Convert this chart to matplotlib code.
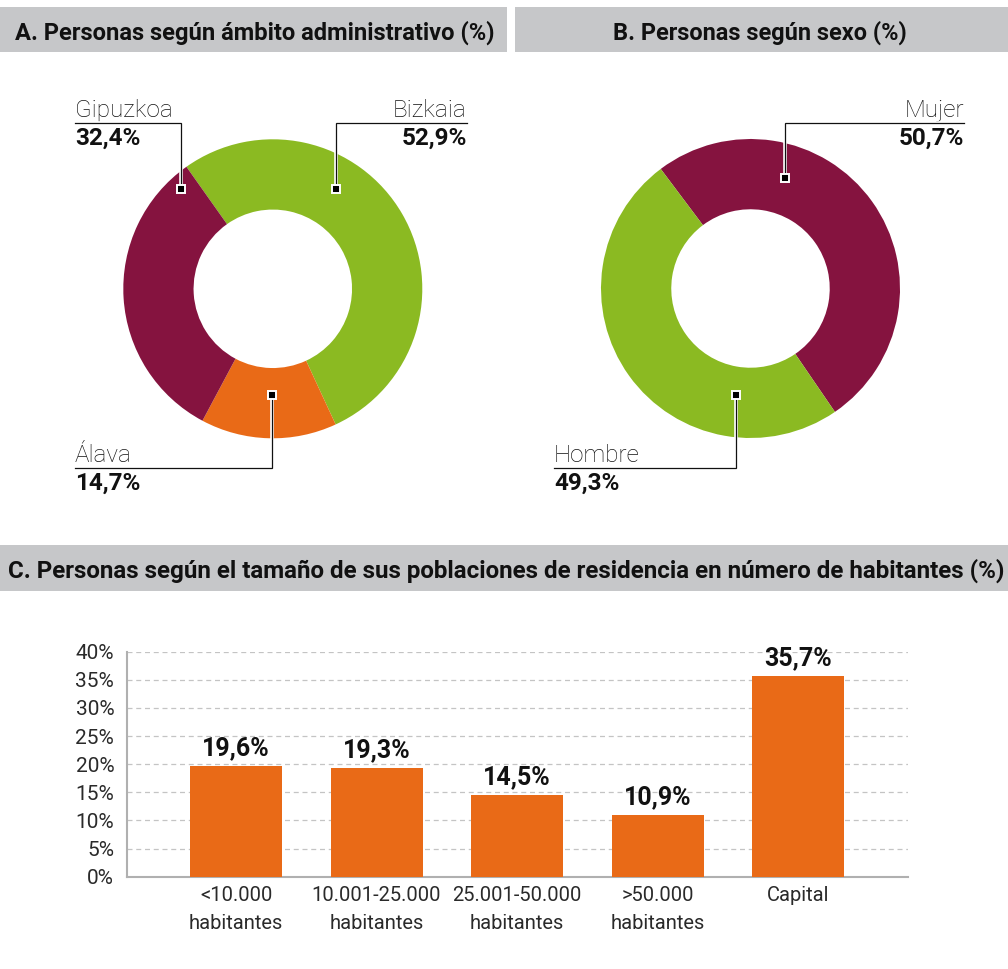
import matplotlib
matplotlib.use('Agg')
import matplotlib.pyplot as plt
import matplotlib.patheffects as pe
from matplotlib.patches import Rectangle

plt.rcParams['font.family'] = ['Roboto', 'DejaVu Sans']

# ---------------- data ----------------
prov_labels = ['Bizkaia', 'Álava', 'Gipuzkoa']
prov_values = [52.9, 14.7, 32.4]
prov_colors = ['#8bba22', '#e96a17', '#85133f']

sex_labels = ['Mujer', 'Hombre']
sex_values = [50.7, 49.3]
sex_colors = ['#85133f', '#8bba22']

size_categories = ['<10.000\nhabitantes', '10.001-25.000\nhabitantes',
                   '25.001-50.000\nhabitantes', '>50.000\nhabitantes', 'Capital']
size_values = [19.6, 19.3, 14.5, 10.9, 35.7]
y_ticks = [0, 5, 10, 15, 20, 25, 30, 35, 40]
y_tick_labels = ['0%', '5%', '10%', '15%', '20%', '25%', '30%', '35%', '40%']

title_a = 'A. Personas según ámbito administrativo (%)'
title_b = 'B. Personas según sexo (%)'
title_c = 'C. Personas según el tamaño de sus poblaciones de residencia en número de habitantes (%)'

bar_color = '#e96a17'
header_gray = '#c6c7c9'

# ---------------- figure ----------------
W, H = 1008, 969
fig = plt.figure(figsize=(W / 100, H / 100), dpi=100)
fig.patch.set_facecolor('white')


def px_axes(x0, y0, x1, y1):
    return fig.add_axes([x0 / W, 1 - y1 / H, (x1 - x0) / W, (y1 - y0) / H])


def fmt(v):
    return f'{v:.1f}%'.replace('.', ',')


# overlay in pixel coordinates (top-left origin)
ov = fig.add_axes([0, 0, 1, 1])
ov.set_xlim(0, W)
ov.set_ylim(H, 0)
ov.axis('off')
ov.patch.set_visible(False)
ov.set_zorder(10)

# headers
ov.add_patch(Rectangle((0, 7.3), 507, 45, color=header_gray, lw=0, zorder=0))
ov.add_patch(Rectangle((515, 7.3), W - 515, 45, color=header_gray, lw=0, zorder=0))
ov.add_patch(Rectangle((0, 545), W, 45.7, color=header_gray, lw=0, zorder=0))

renderer = fig.canvas.get_renderer()


def fit(t, target):
    w = t.get_window_extent(renderer).width
    t.set_fontsize(t.get_fontsize() * target / w)


ta = ov.text(254.5, 39.3, title_a, ha='center', va='baseline', fontsize=15,
             fontweight='bold', color='#111111')
tb = ov.text(760, 39.3, title_b, ha='center', va='baseline', fontsize=15,
             fontweight='bold', color='#111111')
tc = ov.text(7.7, 577.3, title_c, ha='left', va='baseline', fontsize=13,
             fontweight='bold', color='#111111', clip_on=False)
fit(ta, 485)
fit(tb, 296)
fit(tc, 1000)

# ---------------- donuts ----------------
R = 149.5


def donut(cx, cy, values, colors, start):
    ax = px_axes(cx - R, cy - R, cx + R, cy + R)
    ax.pie(values, colors=colors, startangle=start, counterclock=False, radius=1,
           wedgeprops=dict(width=0.47, linewidth=0))
    ax.set_xlim(-1, 1)
    ax.set_ylim(-1, 1)
    ax.set_aspect('equal')
    ax.axis('off')
    return ax


donut(272.8, 288.8, prov_values, prov_colors, 125.3)
donut(750.5, 288.5, sex_values, sex_colors, 126.9)


def callout(mx, my, line_y, end_x, name, value, side):
    stroke = [pe.Stroke(linewidth=2.6, foreground='white'), pe.Normal()]
    ov.plot([mx, mx, end_x], [my, line_y, line_y], color='#111111', lw=0.9,
            solid_joinstyle='miter', path_effects=stroke, zorder=5)
    ov.plot([mx], [my], marker='s', markersize=6.2, color='black',
            markeredgecolor='white', markeredgewidth=1.4, zorder=6)
    ha = 'left' if side == 'left' else 'right'
    ov.text(end_x, line_y - 6.6, name, ha=ha, va='baseline', fontsize=17.5,
            fontweight='light', color='#111111')
    ov.text(end_x, line_y + 21.3, value, ha=ha, va='baseline', fontsize=17.5,
            fontweight='bold', color='#111111')


# Provinces
callout(336.0, 189.3, 123.3, 466.7, prov_labels[0], fmt(prov_values[0]), 'right')
callout(272.3, 395.3, 468.3, 75.0, prov_labels[1], fmt(prov_values[1]), 'left')
callout(181.0, 189.3, 123.3, 75.0, prov_labels[2], fmt(prov_values[2]), 'left')
# Sex
callout(785.3, 177.7, 123.3, 964.3, sex_labels[0], fmt(sex_values[0]), 'right')
callout(735.7, 395.3, 468.3, 554.0, sex_labels[1], fmt(sex_values[1]), 'left')

# ---------------- bar chart ----------------
bx = px_axes(126.7, 651.7, 907.7, 876.7)
x = list(range(len(size_values)))
bx.bar(x, size_values, width=0.655, color=bar_color, zorder=3)
bx.set_xlim(-0.778, 4.78)
bx.set_ylim(0, 40)
bx.set_yticks(y_ticks)
bx.set_yticklabels(y_tick_labels)
bx.set_xticks(x)
bx.set_xticklabels(size_categories, linespacing=1.58)
bx.set_axisbelow(True)
bx.yaxis.grid(True, color='#c4c4c4', linestyle=(0, (4, 3)), linewidth=0.9)
for s in ['top', 'right']:
    bx.spines[s].set_visible(False)
for s in ['left', 'bottom']:
    bx.spines[s].set_color('#b0b0b0')
    bx.spines[s].set_linewidth(1.5)
bx.tick_params(axis='both', length=0, labelcolor='#2a2a2a')
bx.tick_params(axis='y', pad=9, labelsize=15)
bx.tick_params(axis='x', pad=7, labelsize=14.5)
for lab in bx.get_xticklabels() + bx.get_yticklabels():
    lab.set_fontweight('normal')
for i, v in zip(x, size_values):
    bx.annotate(fmt(v), xy=(i, v), xytext=(0, 8), textcoords='offset points',
                ha='center', va='baseline', fontsize=18, fontweight='bold',
                color='#111111')

fig.savefig('out.png', dpi=100, facecolor='white')
